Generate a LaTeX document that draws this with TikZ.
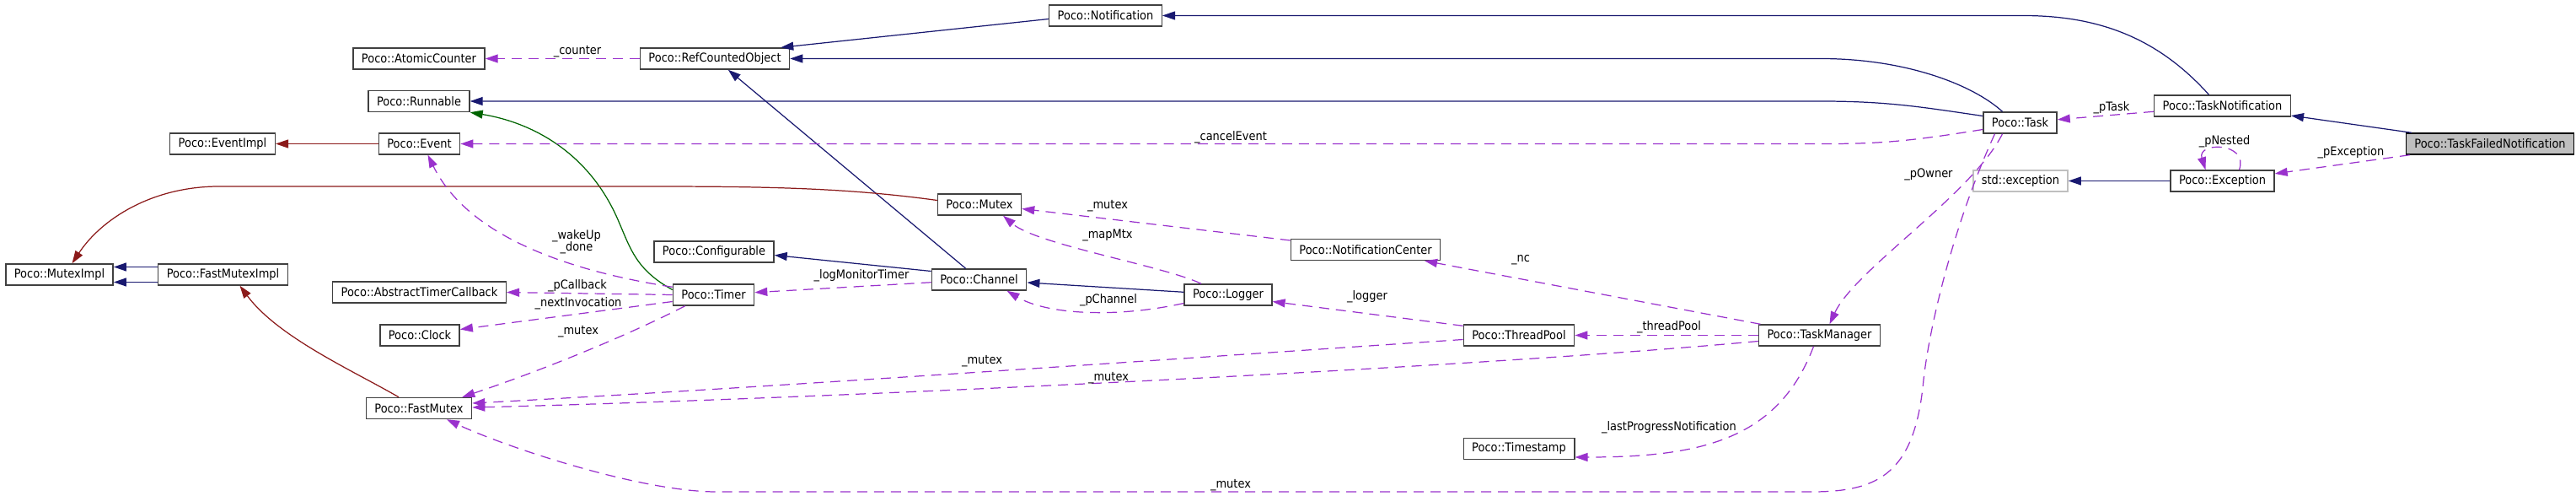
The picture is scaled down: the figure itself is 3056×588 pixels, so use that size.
\documentclass[tikz,border=0pt]{standalone}
\usepackage{fontspec}
\setmainfont{DejaVu Sans}[FakeStretch=0.9]
\usetikzlibrary{arrows.meta, positioning, calc}
\definecolor{pubblue}{HTML}{191970}
\definecolor{protgreen}{HTML}{006400}
\definecolor{privred}{HTML}{8B1A1A}
\definecolor{usepurple}{HTML}{9A32CD}
\definecolor{boxgray}{HTML}{404040}
\definecolor{extgray}{HTML}{BFBFBF}

\begin{document}
\begin{tikzpicture}[
    x=0.01cm, y=-0.01cm,
    >={Triangle[length=0.15cm, width=0.1cm]},
    every node/.style={font=\fontsize{4.1}{4.1}\selectfont, text=black},
    cls/.style={draw=boxgray, line width=0.4pt, fill=white, minimum height=0.25cm,
      inner xsep=0.1cm, inner ysep=0pt},
    inhpub/.style={->, pubblue, line width=0.35pt},
    inhprot/.style={->, protgreen, line width=0.35pt},
    inhpriv/.style={->, privred, line width=0.35pt},
    usage/.style={->, usepurple, line width=0.35pt, dash pattern=on 0.12cm off 0.08cm},
    lbl/.style={inner sep=0pt},
  ]

  \useasboundingbox (0,0) rectangle (3056,588);

  % === Classes ===
  \node[cls] (notif) at (1311.5,18.5) {Poco::Notification};
  \node[cls] (ac) at (497,69.5) {Poco::AtomicCounter};
  \node[cls] (rco) at (848,69.5) {Poco::RefCountedObject};
  \node[cls] (runnable) at (497,120) {Poco::Runnable};
  \node[cls] (evimpl) at (264,170.5) {Poco::EventImpl};
  \node[cls] (event) at (497.5,170.5) {Poco::Event};
  \node[cls] (mutex) at (1162,242.5) {Poco::Mutex};
  \node[cls] (conf) at (847,298.5) {Poco::Configurable};
  \node[cls] (mimpl) at (70.5,325.5) {Poco::MutexImpl};
  \node[cls] (fmimpl) at (264.5,325.5) {Poco::FastMutexImpl};
  \node[cls] (atcb) at (497.5,346.5) {Poco::AbstractTimerCallback};
  \node[cls] (clock) at (498,397.5) {Poco::Clock};
  \node[cls] (fmutex) at (497,484) {Poco::FastMutex};
  \node[cls] (timer) at (846.5,349.5) {Poco::Timer};
  \node[cls] (channel) at (1161.5,331.5) {Poco::Channel};
  \node[cls] (logger) at (1457,349.5) {Poco::Logger};
  \node[cls] (nc) at (1620,296) {Poco::NotificationCenter};
  \node[cls] (tpool) at (1802,397.5) {Poco::ThreadPool};
  \node[cls] (tstamp) at (1802,532) {Poco::Timestamp};
  \node[cls] (tmgr) at (2158.5,397.5) {Poco::TaskManager};
  \node[cls] (task) at (2396.5,145.5) {Poco::Task};
  \node[cls] (tnotif) at (2636.5,125.5) {Poco::TaskNotification};
  \node[cls, draw=extgray] (stdexc) at (2397,214.5) {std::exception};
  \node[cls] (exc) at (2636.5,214.5) {Poco::Exception};
  \node[cls, fill=extgray, draw=black] (tfn) at (2954,170.5) {Poco::TaskFailedNotification};

  % === Inheritance ===
  \draw[inhpub] (tfn) -- (tnotif);
  \draw[inhpub] (exc) -- (stdexc);
  \draw[inhpub] ($(tnotif.north)+(-16,0)$) .. controls (2560,45) and (2490,18.5) .. (2400,18.5) -- (notif.east);
  \draw[inhpub] ($(task.north)+(-21,0)$) .. controls (2340,100) and (2260,69.5) .. (2160,69.5) -- (rco.east);
  \draw[inhpub] ($(task.west)+(0,-8)$) .. controls (2280,127) and (2240,120) .. (2160,120) -- (runnable.east);
  \draw[inhpub] ($(notif.west)+(0,4)$) -- ($(rco.north east)+(-11,0)$);
  \draw[inhpub] (channel) -- (rco);
  \draw[inhpub] (logger) -- (channel);
  \draw[inhpub] ($(channel.west)+(0,-10)$) -- ($(conf.east)+(0,4)$);
  \draw[inhprot] ($(timer.west)+(0,-6)$) .. controls (755,320) and (748,295) .. (735,265)
    .. controls (700,180) and (630,145) .. (runnable.south east);
  \draw[inhpriv] (event) -- (evimpl);
  \draw[inhpriv] ($(mutex.west)+(0,-5)$) .. controls (1000,222) and (900,221) .. (760,221) -- (260,221)
    .. controls (180,221) and (120,260) .. ($(mimpl.north)+(15,0)$);
  \draw[inhpriv] ($(fmutex.north)+(-24,0)$) .. controls (420,440) and (330,400) .. ($(fmimpl.south)+(20,0)$);
  \draw[inhpub] ($(fmimpl.west)+(0,-9)$) -- ($(mimpl.east)+(0,-9)$);
  \draw[inhpub] ($(fmimpl.west)+(0,9)$) -- ($(mimpl.east)+(0,9)$);

  % === Usage (members) ===
  \draw[usage] (rco) -- (ac);
  \draw[usage] ($(task.west)+(0,8)$) .. controls (2280,165) and (2240,170.5) .. (2170,170.5) -- (event.east);
  \draw[usage] (tnotif) -- (task);
  \draw[usage] (tfn) -- (exc);
  \draw[usage] ($(exc.north)+(20,0)$) .. controls (2668,168) and (2606,168) .. ($(exc.north)+(-20,0)$);
  \draw[usage] (tmgr) -- (nc);
  \draw[usage] (tmgr) -- (tpool);
  \draw[usage] ($(tmgr.south)+(-7,0)$) .. controls (2110,520) and (2020,542) .. ($(tstamp.east)+(0,10)$);
  \draw[usage] ($(task.south)+(-21,0)$) .. controls (2340,230) and (2200,320) .. ($(tmgr.north)+(12,0)$);
  \draw[usage] ($(task.south)+(-30,0)$) .. controls (2320,260) and (2290,380) .. (2282,450)
    .. controls (2272,560) and (2230,583) .. (2150,583) -- (850,583)
    .. controls (760,583) and (600,530) .. ($(fmutex.south)+(33,0)$);
  \draw[usage] ($(tmgr.west)+(0,7)$) .. controls (1700,440) and (900,475) .. ($(fmutex.east)+(0,-1)$);
  \draw[usage] ($(tpool.west)+(0,5)$) .. controls (1400,425) and (900,460) .. ($(fmutex.east)+(0,-6)$);
  \draw[usage] ($(tpool.north west)+(0,2)$) -- ($(logger.east)+(0,8)$);
  \draw[usage] ($(logger.west)+(0,10)$) .. controls (1320,378) and (1240,372) .. ($(channel.south)+(33,0)$);
  \draw[usage] ($(logger.north)+(-32,0)$) .. controls (1380,315) and (1230,290) .. ($(mutex.south)+(28,0)$);
  \draw[usage] ($(nc.west)+(0,-11)$) -- ($(mutex.east)+(0,5)$);
  \draw[usage] (channel) -- (timer);
  \draw[usage] ($(timer.north west)+(0,4)$) .. controls (700,325) and (560,290) .. ($(event.south)+(10,0)$);
  \draw[usage] (timer.west) -- (atcb.east);
  \draw[usage] ($(timer.west)+(0,8)$) -- ($(clock.east)+(0,-7)$);
  \draw[usage] ($(timer.south west)+(15,0)$) .. controls (740,400) and (640,440) .. ($(fmutex.north east)+(-12,0)$);

  % === Member labels ===
  \node[lbl] (lcounter) at (685,61) {\_counter};
  \node[lbl] (lcancel) at (1460,163) {\_cancelEvent};
  \node[lbl, align=center] (lwake) at (684,287) {\_wakeUp\\\_done};
  \node[lbl] (lcallback) at (685,339) {\_pCallback};
  \node[lbl] (lnextinv) at (686,360) {\_nextInvocation};
  \node[lbl] (ltmutex) at (686,393) {\_mutex};
  \node[lbl] (llogmon) at (1022,327) {\_logMonitorTimer};
  \node[lbl] (lncmutex) at (1314,244) {\_mutex};
  \node[lbl] (lmapmtx) at (1314,279) {\_mapMtx};
  \node[lbl] (lpchannel) at (1315,356) {\_pChannel};
  \node[lbl] (llogger) at (1622,352) {\_logger};
  \node[lbl] (lnc) at (1804,308) {\_nc};
  \node[lbl] (lthreadpool) at (1980,388) {\_threadPool};
  \node[lbl] (llastprog) at (1980,507) {\_lastProgressNotification};
  \node[lbl] (ltpmutex) at (1165,428) {\_mutex};
  \node[lbl] (ltmmutex) at (1315,448) {\_mutex};
  \node[lbl] (ltaskmutex) at (1460,575) {\_mutex};
  \node[lbl] (lowner) at (2288,207) {\_pOwner};
  \node[lbl] (lptask) at (2505,128) {\_pTask};
  \node[lbl] (lnested) at (2639,168) {\_pNested};
  \node[lbl] (lexc) at (2789,181) {\_pException};

\end{tikzpicture}
\end{document}
